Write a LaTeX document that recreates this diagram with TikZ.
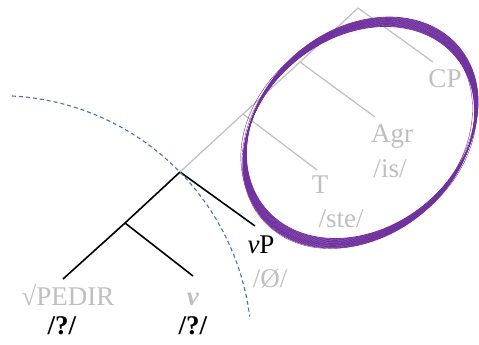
\documentclass[tikz,border=0pt]{standalone}
\usepackage{fontspec}
\setmainfont{Liberation Serif}
\usetikzlibrary{positioning}

\definecolor{lgray}{RGB}{191,191,191}
\definecolor{phaseblue}{RGB}{68,114,196}
\definecolor{ringpurple}{RGB}{112,48,160}

\begin{document}
\begin{tikzpicture}[x=1pt, y=-1pt]

  \tikzset{
    lbl/.style   = {font=\fontsize{27}{31}\selectfont, inner sep=0pt, anchor=base},
    dim/.style   = {lbl, text=lgray},
    live/.style  = {line width=1.6pt, black},
    dead/.style  = {line width=1.2pt, lgray},
    phase/.style = {line width=1.1pt, phaseblue, dash pattern=on 4pt off 3pt},
    ring/.style  = {line width=0.8pt, ringpurple},
    strand/.style = {line width=0.4pt, ringpurple},
  }

  \useasboundingbox (0,0) rectangle (479,345);

  % ---- junctions and branch ends ----------------------------------------
  \coordinate (n1) at (125,223);   % root + v
  \coordinate (n2) at (180,172);   % vP
  \coordinate (n3) at (243,114);   % T
  \coordinate (n4) at (300,62);    % Agr
  \coordinate (n5) at (358,8);     % CP
  \coordinate (eR)  at (63,279);
  \coordinate (eV)  at (193,276);
  \coordinate (eVP) at (255,226);
  \coordinate (eT)  at (317,170);
  \coordinate (eA)  at (375,117);
  \coordinate (eC)  at (433,62);

  % ---- spelled-out part, black ------------------------------------------
  \draw[live] (n2) -- (n1) -- (eR);
  \draw[live] (n1) -- (eV);
  \draw[live] (n2) -- (eVP);

  % ---- higher structure, gray -------------------------------------------
  \draw[dead] (n2) -- (n3) -- (n4) -- (n5);
  \draw[dead] (n3) -- (eT);
  \draw[dead] (n4) -- (eA);
  \draw[dead] (n5) -- (eC);

  % ---- labels -----------------------------------------------------------
  \node[dim] (root)  at (68,305)  {√PEDIR};
  \node[dim] (v)     at (193,305) {\textbf{\textit{ν}}};
  \node[lbl] (rootx) at (62,334)  {\textbf{/?/}};
  \node[lbl] (vx)    at (193,334) {\textbf{/?/}};
  \node[lbl] (vP)    at (261,253) {\textit{ν}P};
  \node[dim] (vPx)   at (270,287) {/Ø/};
  \node[dim] (T)     at (320,193) {T};
  \node[dim] (Tx)    at (341,227) {/ste/};
  \node[dim] (Agr)   at (392,142) {Agr};
  \node[dim] (Agrx)  at (390,177) {/is/};
  \node[dim] (CP)    at (445,87)  {CP};

  % ---- phase boundary ---------------------------------------------------
  \draw[phase] (12,96) arc[start angle=-87, end angle=-7.3, radius=253];

  % ---- circled chunk, several rough strokes -----------------------------
  \begin{scope}[shift={(358.8,137.2)}]
    \foreach \k in {0,...,15} {
      \pgfmathsetmacro{\ox}{3.4*\k/15}
      \pgfmathsetmacro{\oy}{-9.4*\k/15}
      \draw[ring, shift={(\ox,\oy)}, rotate=39.5]
        (0,0) ellipse [x radius=126, y radius=99];
    }
    \draw[strand, shift={(-1.5,-2)}, rotate=43]
      (0,0) ellipse [x radius=127, y radius=100];
    \draw[strand, shift={(0,-3)}, rotate=36]
      (0,0) ellipse [x radius=126, y radius=101];
    \draw[strand, shift={(1,-5)}, rotate=41]
      (0,0) ellipse [x radius=128, y radius=98];
  \end{scope}

\end{tikzpicture}
\end{document}
